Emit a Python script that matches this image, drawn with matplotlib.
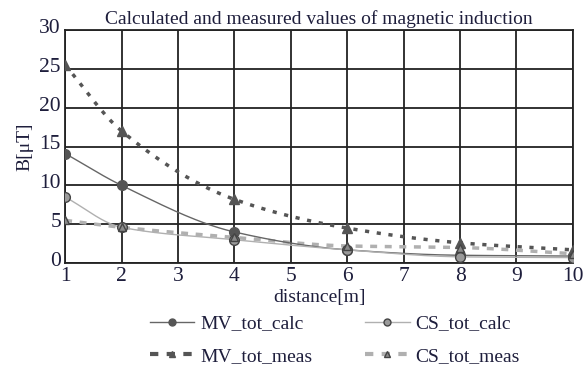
import numpy as np
import matplotlib
matplotlib.use("Agg")
import matplotlib.pyplot as plt
from matplotlib.lines import Line2D
from matplotlib.transforms import ScaledTranslation

distance = [1, 2, 4, 6, 8, 10]
mv_calc = [14.1, 10.0, 4.0, 1.7, 1.0, 0.9]
cs_calc = [8.5, 4.6, 3.0, 1.7, 0.8, 0.7]
mv_meas = [25.5, 17.0, 8.2, 4.5, 2.6, 1.7]
cs_meas = [5.5, 4.6, 3.3, 2.2, 2.0, 1.2]
x_ticks = list(range(1, 11))
y_ticks = [0, 5, 10, 15, 20, 25, 30]

plt.rcParams['font.family'] = ['Liberation Serif', 'DejaVu Serif']


def pchip(x, y, n=200):
    x = np.asarray(x, float); y = np.asarray(y, float)
    h = np.diff(x); d = np.diff(y) / h
    m = np.zeros_like(y)
    for k in range(1, len(x) - 1):
        if d[k - 1] * d[k] > 0:
            w1 = 2 * h[k] + h[k - 1]; w2 = h[k] + 2 * h[k - 1]
            m[k] = (w1 + w2) / (w1 / d[k - 1] + w2 / d[k])
    m[0] = d[0]; m[-1] = d[-1]
    xs = np.linspace(x[0], x[-1], n)
    idx = np.clip(np.searchsorted(x, xs) - 1, 0, len(x) - 2)
    t = (xs - x[idx]) / h[idx]
    h00 = 2*t**3 - 3*t**2 + 1; h10 = t**3 - 2*t**2 + t
    h01 = -2*t**3 + 3*t**2; h11 = t**3 - t**2
    ys = h00*y[idx] + h10*h[idx]*m[idx] + h01*y[idx+1] + h11*h[idx]*m[idx+1]
    return xs, ys


fig = plt.figure(figsize=(5.87, 3.71), dpi=100)
ax = fig.add_axes([0.111, 0.291, 0.865, 0.628])

dark = '#555555'
light = '#b0b0b0'
mid = '#8a8a8a'
txt = '#1e1e3c'

xs, ys = pchip(distance, mv_meas)
ax.plot(xs, ys, color=dark, lw=2.5, ls=(0, (1.2, 2.2)), zorder=3)
ax.plot(distance, mv_meas, ls='none', marker='^', ms=7, color=dark, zorder=5)

xs, ys = pchip(distance, cs_meas)
ax.plot(xs, ys, color=light, lw=2.5, ls=(0, (2.0, 2.2)), zorder=3)
ax.plot(distance, cs_meas, ls='none', marker='^', ms=6, mfc=mid, mec='#444444', zorder=6)

xs, ys = pchip(distance, mv_calc)
ax.plot(xs, ys, color='#666666', lw=1.0, zorder=4)
ax.plot(distance, mv_calc, ls='none', marker='o', ms=7, color=dark, zorder=5)

xs, ys = pchip(distance, cs_calc)
ax.plot(xs, ys, color=light, lw=1.0, zorder=4)
ax.plot(distance, cs_calc, ls='none', marker='o', ms=7, mfc='#9a9a9a', mec='#444444', zorder=5)

ax.set_xlim(1, 10)
ax.set_ylim(0, 30)
ax.set_xticks(x_ticks)
ax.set_yticks(y_ticks)
ax.grid(True, color='#222222', lw=1.3)
ax.set_axisbelow(True)
for s in ax.spines.values():
    s.set_color('#222222'); s.set_linewidth(1.3)
ax.tick_params(length=0, labelsize=15.5, colors=txt, pad=3)
for lab in ax.get_yticklabels():
    lab.set_transform(lab.get_transform() + ScaledTranslation(0, 3 / 72, fig.dpi_scale_trans))
ax.set_title('Calculated and measured values of magnetic induction', fontsize=14,
             color=txt, pad=4)
ax.set_xlabel('distance[m]', fontsize=14, color=txt, labelpad=2)
ax.set_ylabel('B[μT]', fontsize=14, color=txt, labelpad=4)

handles = [
    Line2D([], [], color='#666666', lw=1.0, marker='o', ms=5, mfc=dark, mec=dark),
    Line2D([], [], color=dark, lw=3, ls=(0, (2, 2)), marker='^', ms=5),
    Line2D([], [], color=light, lw=1.0, marker='o', ms=5, mfc='#9a9a9a', mec='#444444'),
    Line2D([], [], color=light, lw=3, ls=(0, (2, 2)), marker='^', ms=5, mfc=mid, mec='#444444'),
]
labels = ['MV_tot_calc', 'MV_tot_meas', 'CS_tot_calc', 'CS_tot_meas']
fig.legend(handles, labels, ncol=2, loc='upper left', bbox_to_anchor=(0.255, 0.151),
           frameon=False, fontsize=14, columnspacing=2.7, handlelength=2.3,
           handletextpad=0.3, labelspacing=0.75, labelcolor=txt,
           borderaxespad=0, borderpad=0)

fig.savefig('out.png', dpi=100)
